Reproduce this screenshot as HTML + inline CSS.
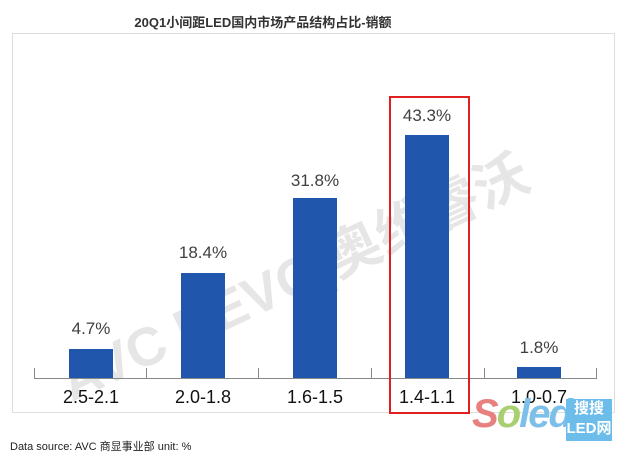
<!DOCTYPE html>
<html><head><meta charset="utf-8"><style>
body{margin:0;width:626px;height:460px;background:#fff;position:relative;overflow:hidden;font-family:"Liberation Sans","Noto Sans CJK SC",sans-serif}
.a{position:absolute}
.bar{position:absolute;background:#2156ad;width:44px}
.v{position:absolute;width:90px;text-align:center;font-size:17px;color:#404040}
.c{position:absolute;width:100px;text-align:center;font-size:18px;color:#111;top:387px}
.t{position:absolute;top:368px;width:1px;height:10px;background:#888}
</style></head><body>
<div class="a" style="left:0;width:526px;top:12px;text-align:center;font-size:13px;font-weight:bold;color:#333">20Q1小间距LED国内市场产品结构占比-销额</div>
<div class="a" style="left:12px;top:33px;width:601px;height:378px;border:1px solid #ddd"></div>
<div class="a" style="left:45px;top:345px;font-size:54px;font-weight:bold;color:#e6e6e6;transform:rotate(-25deg);transform-origin:left top;white-space:nowrap">AVC REVO|奥维睿沃</div>
<div class="bar" style="left:69px;top:349px;height:29px"></div>
<div class="bar" style="left:181px;top:273px;height:105px"></div>
<div class="bar" style="left:293px;top:198px;height:180px"></div>
<div class="bar" style="left:405px;top:135px;height:243px"></div>
<div class="bar" style="left:517px;top:367px;height:11px"></div>
<div class="v" style="left:46px;top:319px">4.7%</div>
<div class="v" style="left:158px;top:243px">18.4%</div>
<div class="v" style="left:270px;top:171px">31.8%</div>
<div class="v" style="left:382px;top:106px">43.3%</div>
<div class="v" style="left:494px;top:338px">1.8%</div>
<div class="a" style="left:34px;top:378px;width:563px;height:1px;background:#888"></div>
<div class="t" style="left:34px"></div><div class="t" style="left:146px"></div><div class="t" style="left:258px"></div><div class="t" style="left:371px"></div><div class="t" style="left:484px"></div><div class="t" style="left:596px"></div>
<div class="c" style="left:41px">2.5-2.1</div>
<div class="c" style="left:153px">2.0-1.8</div>
<div class="c" style="left:265px">1.6-1.5</div>
<div class="c" style="left:377px">1.4-1.1</div>
<div class="c" style="left:489px">1.0-0.7</div>
<div class="a" style="left:389px;top:96px;width:77px;height:314px;border:2px solid #e02020"></div>
<div class="a" style="left:472px;top:392px;font-size:40px;font-style:italic;font-weight:bold;color:#e88080;letter-spacing:-2px">S<span style="color:#a8d070">o</span><span style="color:#7cc0ea">led</span></div>
<div class="a" style="left:566px;top:399px;width:46px;height:42px;background:#6cbde9;color:#fff;font-size:15px;font-weight:bold;text-align:center;line-height:20px">搜搜<br>LED网</div>
<div class="a" style="left:10px;top:438px;font-size:11px;color:#222">Data source: AVC 商显事业部 unit: %</div>
</body></html>
